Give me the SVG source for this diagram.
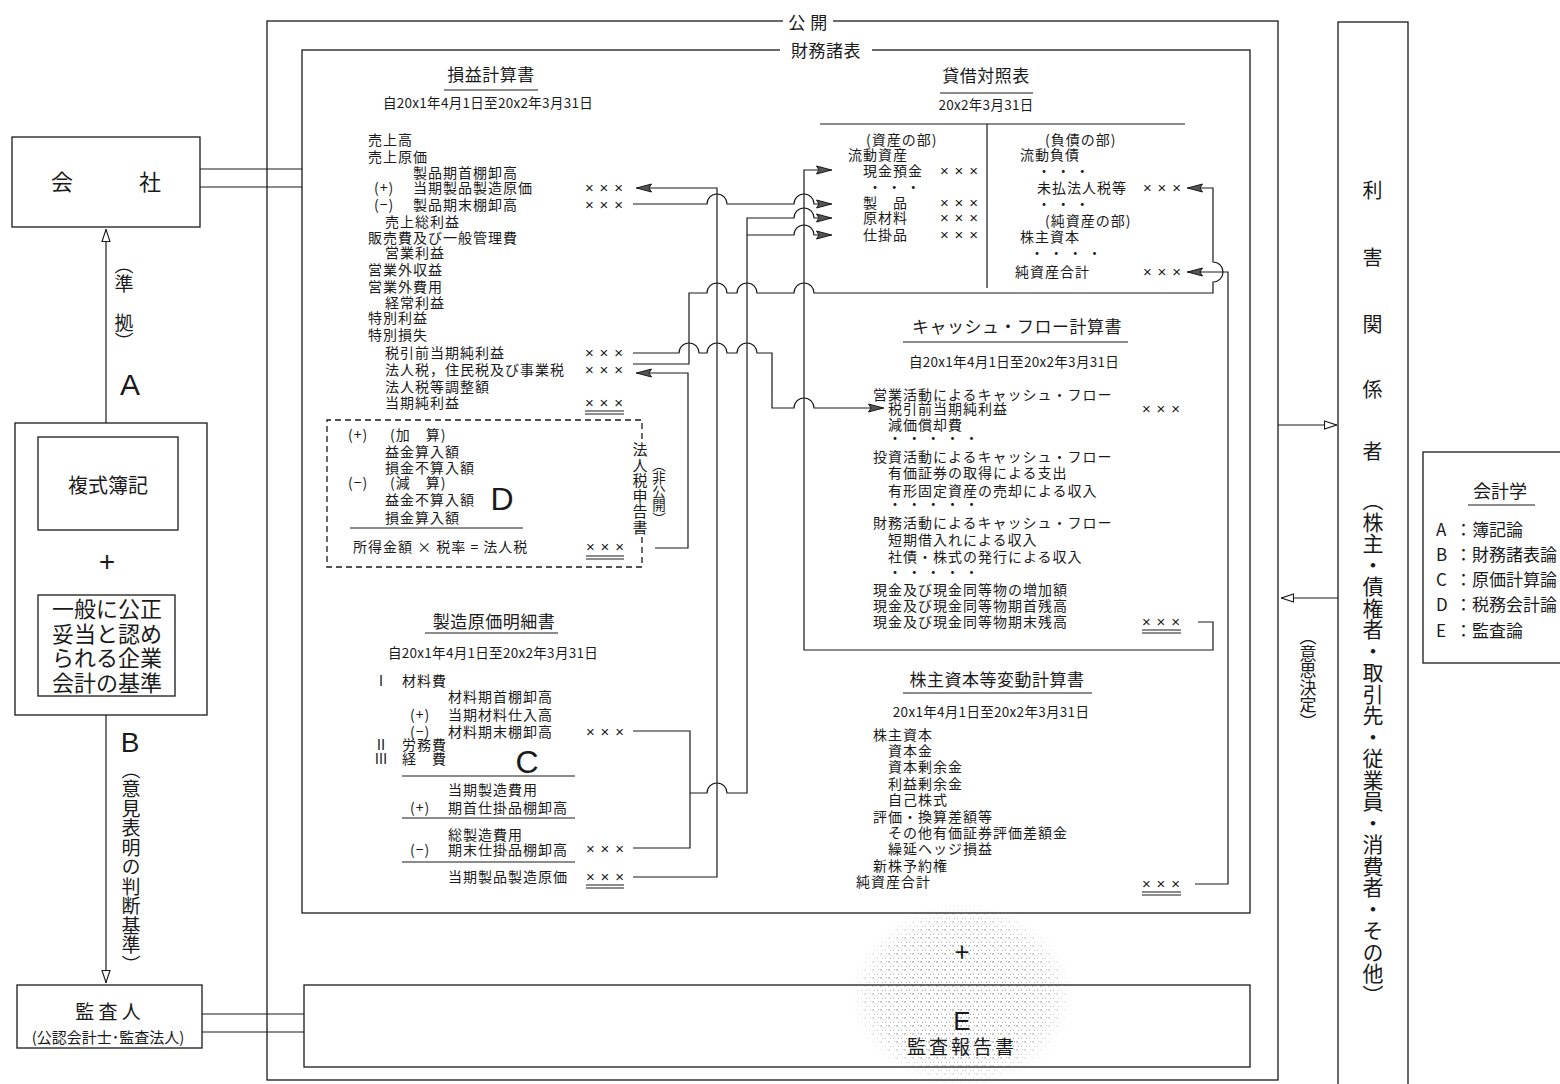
<svg xmlns="http://www.w3.org/2000/svg" width="1560" height="1084" viewBox="0 0 1560 1084">
<style>
.t{font-family:"Noto Sans CJK JP","Noto Sans",sans-serif;font-size:14px;letter-spacing:1px;fill:#1a1a1a}
.s{font-size:13.5px;letter-spacing:0.3px}
.h{font-size:17px;letter-spacing:0.5px}
.big{font-size:22px;letter-spacing:0}
.L{font-family:"Liberation Sans",sans-serif;font-size:32px;letter-spacing:0}
.x{font-family:"Liberation Sans",sans-serif;font-size:15px;letter-spacing:0}
.m{text-anchor:middle}
.v{writing-mode:vertical-rl}
.ln{stroke:#1a1a1a;stroke-width:1.2;fill:none}
.box{stroke:#1a1a1a;stroke-width:1.3;fill:#fff}
.dash{stroke:#1a1a1a;stroke-width:1.3;fill:none;stroke-dasharray:6 4}
</style>
<defs>
<marker id="fa" viewBox="0 0 16 10" refX="16" refY="5" markerWidth="16" markerHeight="10" markerUnits="userSpaceOnUse" orient="auto">
<path d="M0.5 1L15.5 5L0.5 9L3 5Z" fill="#555" stroke="#1a1a1a" stroke-width="1"/>
</marker>
<marker id="oa" viewBox="0 0 13 10" refX="13" refY="5" markerWidth="13" markerHeight="10" markerUnits="userSpaceOnUse" orient="auto">
<path d="M0.5 1L12.5 5L0.5 9Z" fill="#fff" stroke="#1a1a1a" stroke-width="1.1"/>
</marker>
<pattern id="dots" width="8" height="8" patternUnits="userSpaceOnUse">
<circle cx="1" cy="2" r="0.7" fill="#555"/><circle cx="5.5" cy="6" r="0.6" fill="#666"/><circle cx="6.5" cy="1.5" r="0.5" fill="#777"/><circle cx="2.5" cy="6.5" r="0.5" fill="#666"/><circle cx="4" cy="3.8" r="0.45" fill="#888"/>
</pattern>
<radialGradient id="fade"><stop offset="0" stop-color="#fff" stop-opacity="1"/><stop offset="0.75" stop-color="#fff" stop-opacity="0.8"/><stop offset="1" stop-color="#fff" stop-opacity="0"/></radialGradient>
<mask id="fm"><ellipse cx="962" cy="995" rx="112" ry="92" fill="url(#fade)"/></mask>
</defs>
<rect width="1560" height="1084" fill="#fff"/>

<g id="public">
<rect x="267" y="21" width="1011" height="1059" class="box"/>
<rect x="783" y="10" width="50" height="22" fill="#fff"/>
<text x="808" y="29" class="t m h">公 開</text>
</g>
<g id="fs-frame">
<rect x="302" y="50" width="948" height="863" class="box"/>
<rect x="780" y="38" width="92" height="24" fill="#fff"/>
<text x="826" y="57" class="t m h">財務諸表</text>
</g>

<g id="audit-report">
<rect x="304" y="985" width="946" height="82" class="box"/>
<ellipse cx="962" cy="995" rx="112" ry="92" fill="url(#dots)" mask="url(#fm)"/>
<text x="962" y="962" class="t m" style="font-size:26px;letter-spacing:0">+</text>
<text x="962" y="1030" class="t m" style="font-family:'Liberation Sans',sans-serif;font-size:26px;letter-spacing:0">E</text>
<text x="962" y="1054" class="t m" style="font-size:19px;letter-spacing:3px">監査報告書</text>
</g>

<g id="company">
<rect x="12" y="137" width="188" height="90" class="box"/>
<text x="62" y="190" class="t m big">会</text>
<text x="150" y="190" class="t m big">社</text>
</g>

<g id="gaap">
<rect x="15" y="423" width="192" height="292" class="box"/>
<rect x="38" y="437" width="140" height="93" class="box"/>
<text x="108" y="493" class="t m" style="font-size:20px;letter-spacing:0">複式簿記</text>
<text x="107" y="572" class="t m" style="font-size:28px;letter-spacing:0">+</text>
<rect x="38" y="595" width="137" height="101" class="box"/>
<text x="107" y="617" class="t m big">一般に公正</text>
<text x="107" y="642" class="t m big">妥当と認め</text>
<text x="107" y="666" class="t m big">られる企業</text>
<text x="107" y="691" class="t m big">会計の基準</text>
</g>

<g id="auditor">
<rect x="17" y="985" width="185" height="63" class="box"/>
<text x="108" y="1019" class="t m" style="font-size:19px;letter-spacing:0">監 査 人</text>
<text x="108" y="1043" class="t m" style="font-size:15px;letter-spacing:0">(公認会計士･監査法人)</text>
</g>

<g id="labels-left">
<text x="124" y="255" class="t v" style="font-size:19px;letter-spacing:0">（準</text>
<text x="124" y="313" class="t v" style="font-size:19px;letter-spacing:0">拠）</text>
<text x="130" y="395" class="t m" style="font-family:'Liberation Sans',sans-serif;font-size:30px;letter-spacing:0">A</text>
<text x="130" y="752" class="t m" style="font-family:'Liberation Sans',sans-serif;font-size:28px;letter-spacing:0">B</text>
<text x="131" y="760" class="t v" style="font-size:19px;letter-spacing:0.5px">（意見表明の判断基準）</text>
</g>

<g id="stakeholders">
<rect x="1338" y="22" width="70" height="1070" class="box"/>
<text x="1373" y="198" class="t m" style="font-size:20px">利</text>
<text x="1373" y="265" class="t m" style="font-size:20px">害</text>
<text x="1373" y="332" class="t m" style="font-size:20px">関</text>
<text x="1373" y="397" class="t m" style="font-size:20px">係</text>
<text x="1373" y="459" class="t m" style="font-size:20px">者</text>
<text x="1373" y="490" class="t v" style="font-size:21px;letter-spacing:0.5px">（株主・債権者・取引先・従業員・消費者・その他）</text>
<text x="1308" y="628" class="t v" style="font-size:17px;letter-spacing:0">（意思決定）</text>
</g>

<g id="legend">
<rect x="1423" y="452" width="150" height="211" class="box"/>
<text x="1500" y="498" class="t m" style="font-size:18px;letter-spacing:0">会計学</text>
<path d="M1468 505H1535" class="ln"/>
<g class="t" style="font-size:17px;letter-spacing:0">
<text x="1436" y="536">A</text><text x="1455" y="536">：簿記論</text>
<text x="1436" y="561">B</text><text x="1455" y="561">：財務諸表論</text>
<text x="1436" y="586">C</text><text x="1455" y="586">：原価計算論</text>
<text x="1436" y="611">D</text><text x="1455" y="611">：税務会計論</text>
<text x="1436" y="637">E</text><text x="1455" y="637">：監査論</text>
</g>
</g>

<g id="income-statement" class="t">
<text x="491" y="81" class="m h">損益計算書</text>
<path d="M444 90H538" class="ln"/>
<text x="488" y="108" class="m s">自20x1年4月1日至20x2年3月31日</text>
<text x="368" y="145">売上高</text>
<text x="368" y="162">売上原価</text>
<text x="413" y="178">製品期首棚卸高</text>
<text x="374" y="193">(+)</text><text x="413" y="193">当期製品製造原価</text>
<text x="374" y="210">(−)</text><text x="413" y="210">製品期末棚卸高</text>
<text x="385" y="227">売上総利益</text>
<text x="368" y="243">販売費及び一般管理費</text>
<text x="385" y="258">営業利益</text>
<text x="368" y="275">営業外収益</text>
<text x="368" y="292">営業外費用</text>
<text x="385" y="308">経常利益</text>
<text x="368" y="323">特別利益</text>
<text x="368" y="340">特別損失</text>
<text x="385" y="358">税引前当期純利益</text>
<text x="385" y="375">法人税，住民税及び事業税</text>
<text x="385" y="392">法人税等調整額</text>
<text x="385" y="408">当期純利益</text>
<text x="585" y="193" class="x" textLength="38">× × ×</text>
<text x="585" y="210" class="x" textLength="38">× × ×</text>
<text x="585" y="358" class="x" textLength="38">× × ×</text>
<text x="585" y="375" class="x" textLength="38">× × ×</text>
<text x="585" y="408" class="x" textLength="38">× × ×</text>
<path d="M585 411H624M585 414H624" class="ln" style="stroke-width:1"/>
</g>

<g id="tax-return" class="t">
<path d="M642 537V567H327V420H642V440" class="dash"/>
<text x="348" y="440">(+)</text><text x="390" y="440">(加　算)</text>
<text x="385" y="457">益金算入額</text>
<text x="385" y="473">損金不算入額</text>
<text x="348" y="488">(−)</text><text x="390" y="488">(減　算)</text>
<text x="385" y="505">益金不算入額</text>
<text x="385" y="523">損金算入額</text>
<path d="M350 528H523" class="ln"/>
<text x="353" y="552">所得金額 × 税率 = 法人税</text>
<text x="586" y="552" class="x" textLength="38">× × ×</text>
<path d="M586 556H624M586 559H624" class="ln" style="stroke-width:1"/>
<text x="502" y="510" class="L m">D</text>
<text x="640" y="442" class="v" style="font-size:15px;letter-spacing:0.5px">法人税申告書</text>
<text x="659" y="458" class="v" style="font-size:13.5px;letter-spacing:0">（非公開）</text>
</g>

<g id="manufacturing-cost" class="t">
<text x="494" y="628" class="m h">製造原価明細書</text>
<path d="M425 633H558" class="ln"/>
<text x="493" y="658" class="m s">自20x1年4月1日至20x2年3月31日</text>
<text x="374" y="686">Ⅰ</text><text x="402" y="686">材料費</text>
<text x="448" y="702">材料期首棚卸高</text>
<text x="410" y="720">(+)</text><text x="448" y="720">当期材料仕入高</text>
<text x="410" y="737">(−)</text><text x="448" y="737">材料期末棚卸高</text>
<text x="586" y="737" class="x" textLength="38">× × ×</text>
<text x="374" y="750">Ⅱ</text><text x="402" y="750">労務費</text>
<text x="374" y="764">Ⅲ</text><text x="402" y="764">経　費</text>
<text x="527" y="773" class="L m">C</text>
<path d="M402 776H575" class="ln"/>
<text x="448" y="795">当期製造費用</text>
<text x="410" y="813">(+)</text><text x="448" y="813">期首仕掛品棚卸高</text>
<path d="M402 818H575" class="ln"/>
<text x="448" y="840">総製造費用</text>
<text x="410" y="855">(−)</text><text x="448" y="855">期末仕掛品棚卸高</text>
<text x="586" y="854" class="x" textLength="38">× × ×</text>
<path d="M402 862H575" class="ln"/>
<text x="448" y="882">当期製品製造原価</text>
<text x="586" y="882" class="x" textLength="38">× × ×</text>
<path d="M586 885H624M586 888H624" class="ln" style="stroke-width:1"/>
</g>

<g id="balance-sheet" class="t">
<text x="986" y="82" class="m h">貸借対照表</text>
<path d="M940 93H1033" class="ln"/>
<text x="986" y="110" class="m s">20x2年3月31日</text>
<path d="M820 124H1185M987 124V288" class="ln"/>
<text x="866" y="145">(資産の部)</text>
<text x="848" y="160">流動資産</text>
<text x="863" y="176">現金預金</text>
<text x="868" y="192">・ ・ ・</text>
<text x="863" y="208">製　品</text>
<text x="863" y="223">原材料</text>
<text x="863" y="240">仕掛品</text>
<text x="940" y="176" class="x" textLength="38">× × ×</text>
<text x="940" y="208" class="x" textLength="38">× × ×</text>
<text x="940" y="223" class="x" textLength="38">× × ×</text>
<text x="940" y="240" class="x" textLength="38">× × ×</text>
<text x="1045" y="145">(負債の部)</text>
<text x="1020" y="160">流動負債</text>
<text x="1037" y="176">・ ・ ・</text>
<text x="1037" y="193">未払法人税等</text>
<text x="1143" y="193" class="x" textLength="38">× × ×</text>
<text x="1037" y="209">・ ・ ・</text>
<text x="1045" y="226">(純資産の部)</text>
<text x="1020" y="242">株主資本</text>
<text x="1030" y="258">・ ・ ・ ・</text>
<text x="1015" y="277">純資産合計</text>
<text x="1143" y="277" class="x" textLength="38">× × ×</text>
</g>

<g id="cash-flow" class="t">
<text x="1017" y="333" class="m h">キャッシュ・フロー計算書</text>
<path d="M903 342H1128" class="ln"/>
<text x="1014" y="367" class="m s">自20x1年4月1日至20x2年3月31日</text>
<text x="873" y="400">営業活動によるキャッシュ・フロー</text>
<text x="888" y="414">税引前当期純利益</text>
<text x="1142" y="414" class="x" textLength="38">× × ×</text>
<text x="888" y="430">減価償却費</text>
<text x="888" y="443">・ ・ ・ ・ ・</text>
<text x="873" y="462">投資活動によるキャッシュ・フロー</text>
<text x="888" y="478">有価証券の取得による支出</text>
<text x="888" y="496">有形固定資産の売却による収入</text>
<text x="888" y="509">・ ・ ・ ・ ・</text>
<text x="873" y="528">財務活動によるキャッシュ・フロー</text>
<text x="888" y="545">短期借入れによる収入</text>
<text x="888" y="562">社債・株式の発行による収入</text>
<text x="888" y="577">・ ・ ・ ・ ・</text>
<text x="873" y="595">現金及び現金同等物の増加額</text>
<text x="873" y="611">現金及び現金同等物期首残高</text>
<text x="873" y="627">現金及び現金同等物期末残高</text>
<text x="1142" y="627" class="x" textLength="38">× × ×</text>
<path d="M1142 630H1181M1142 633H1181" class="ln" style="stroke-width:1"/>
</g>

<g id="equity-statement" class="t">
<text x="997" y="686" class="m h">株主資本等変動計算書</text>
<path d="M903 693H1092" class="ln"/>
<text x="991" y="717" class="m s">20x1年4月1日至20x2年3月31日</text>
<text x="873" y="740">株主資本</text>
<text x="888" y="756">資本金</text>
<text x="888" y="772">資本剰余金</text>
<text x="888" y="789">利益剰余金</text>
<text x="888" y="805">自己株式</text>
<text x="873" y="822">評価・換算差額等</text>
<text x="888" y="838">その他有価証券評価差額金</text>
<text x="888" y="854">繰延ヘッジ損益</text>
<text x="873" y="871">新株予約権</text>
<text x="856" y="887">純資産合計</text>
<text x="1142" y="889" class="x" textLength="38">× × ×</text>
<path d="M1142 892H1181M1142 895H1181" class="ln" style="stroke-width:1"/>
</g>

<g id="connectors" class="ln">
<path d="M200 169H302M200 187H302"/>
<path d="M202 1014H304M202 1032H304"/>
<path d="M106 423V229" marker-end="url(#oa)"/>
<path d="M106 715V983" marker-end="url(#oa)"/>
<path d="M1278 425H1337" marker-end="url(#oa)"/>
<path d="M1338 598H1281" marker-end="url(#oa)"/>
<path d="M633 877H717V188H636" marker-end="url(#fa)"/>
<path d="M633 204H707A10 10 0 0 1 727 204H794A10 10 0 0 1 814 204H832" marker-end="url(#fa)"/>
<path d="M633 731H690V848H633"/>
<path d="M690 793H707A10 10 0 0 1 727 793H747V218H794A10 10 0 0 1 814 218H832" marker-end="url(#fa)"/>
<path d="M747 235H794A10 10 0 0 1 814 235H832" marker-end="url(#fa)"/>
<path d="M1198 622H1213V650H804V170H832" marker-end="url(#fa)"/>
<path d="M633 364H689V293H707A10 10 0 0 1 727 293H737A10 10 0 0 1 757 293H794A10 10 0 0 1 814 293H1213V282A10 10 0 0 0 1213 262V188H1187" marker-end="url(#fa)"/>
<path d="M1195 884H1228V272H1187" marker-end="url(#fa)"/>
<path d="M633 353H679A10 10 0 0 1 699 353H707A10 10 0 0 1 727 353H737A10 10 0 0 1 757 353H772V408H794A10 10 0 0 1 814 408H884" marker-end="url(#fa)"/>
<path d="M655 548H688V373H636" marker-end="url(#fa)"/>
</g>
</svg>
